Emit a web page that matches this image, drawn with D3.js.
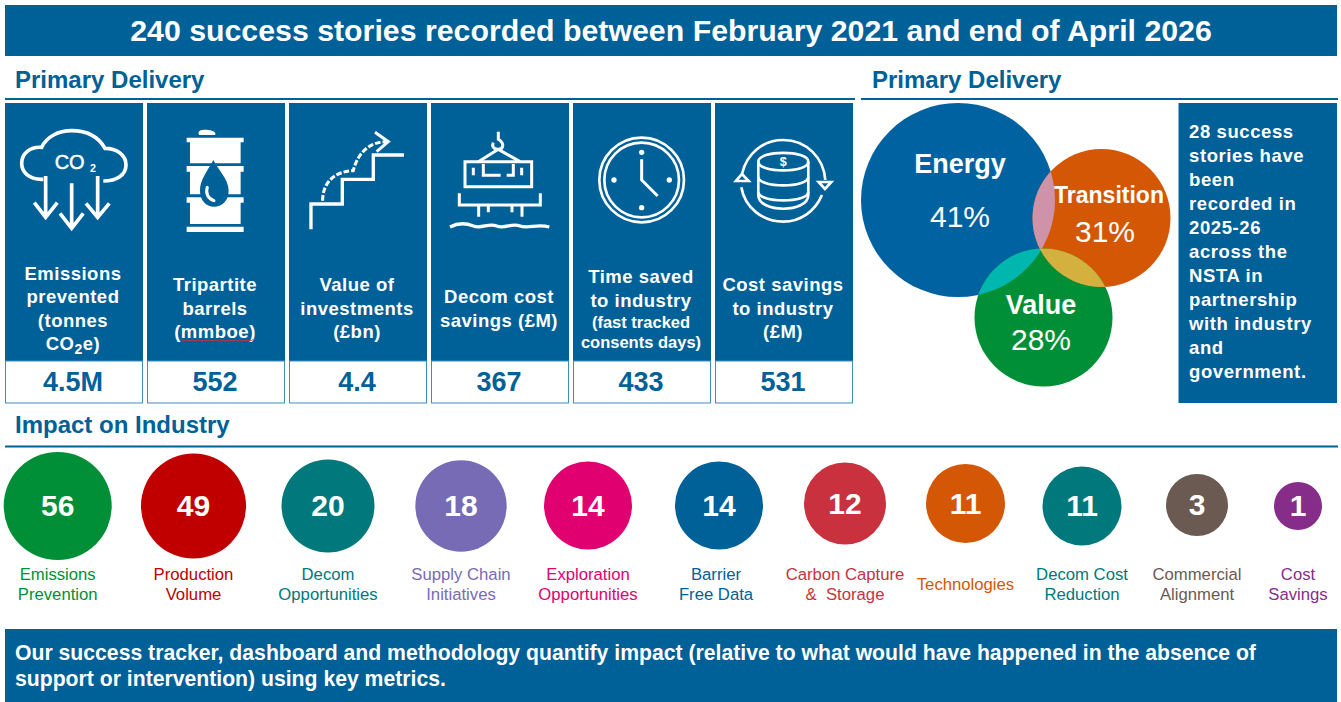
<!DOCTYPE html>
<html>
<head>
<meta charset="utf-8">
<script src="https://cdn.jsdelivr.net/npm/d3@7"></script>
<style>
  html, body { margin: 0; padding: 0; background: #fff; }
  svg { display: block; }
  text { font-family: "Liberation Sans", Arial, sans-serif; white-space: pre; }
</style>
</head>
<body>
<div id="chart"></div>
<script>
// headline cards
var metricNames = ["Emissions", "Tripartite", "Value", "Decom", "Time", "Cost"];
var metricLines = [
  ["Emissions", "prevented", "(tonnes", "CO\u2082e)"],
  ["Tripartite", "barrels", "(mmboe)"],
  ["Value of", "investments", "(\u00a3bn)"],
  ["Decom cost", "savings (\u00a3M)"],
  ["Time saved", "to industry"],
  ["Cost savings", "to industry", "(\u00a3M)"]
];
var metricNotes = [[], [], [], [], ["(fast tracked", "consents days)"], []];
var metricValues = ["4.5M", "552", "4.4", "367", "433", "531"];

// venn
var vennNames = ["Energy", "Transition", "Value"];
var vennShares = [41, 31, 28];
var vennColors = ["#0062a0", "#d45706", "#008f36"];
var storyLines = ["28 success", "stories have", "been", "recorded in", "2025-26", "across the",
  "NSTA in", "partnership", "with industry", "and", "government."];

// impact bubbles
var impactLabels = [
  ["Emissions", "Prevention"], ["Production", "Volume"], ["Decom", "Opportunities"],
  ["Supply Chain", "Initiatives"], ["Exploration", "Opportunities"], ["Barrier", "Free Data"],
  ["Carbon Capture", "&  Storage"], ["Technologies"], ["Decom Cost", "Reduction"],
  ["Commercial", "Alignment"], ["Cost", "Savings"]
];
var impactCounts = [56, 49, 20, 18, 14, 14, 12, 11, 11, 3, 1];
var impactColors = ["#008f36", "#c00000", "#00787c", "#786bb6", "#e0006f", "#006098",
  "#c9313f", "#d45706", "#00787c", "#6a5a52", "#862d8a"];

var blue = "#006098";
var width = 1341, height = 702;

var svg = d3.select("#chart").append("svg")
    .attr("width", width)
    .attr("height", height);

function banner(x, y, w, h) {
  return svg.append("rect").attr("x", x).attr("y", y).attr("width", w).attr("height", h).attr("fill", blue);
}

function heading(label, textX, textY, x1, x2, ruleY) {
  svg.append("text").attr("x", textX).attr("y", textY)
      .attr("font-size", 24).attr("font-weight", "bold").attr("fill", blue).text(label);
  svg.append("line").attr("x1", x1).attr("x2", x2).attr("y1", ruleY).attr("y2", ruleY)
      .attr("stroke", blue).attr("stroke-width", 2);
}

// title
banner(5, 5, 1332, 51);
svg.append("text").attr("x", 671).attr("y", 41)
    .attr("text-anchor", "middle").attr("font-size", 30.3).attr("font-weight", "bold")
    .attr("fill", "#fff").text("240 success stories recorded between February 2021 and end of April 2026");

heading("Primary Delivery", 15, 87.5, 5, 855, 99);
heading("Primary Delivery", 872, 87.5, 861, 1338, 99);
heading("Impact on Industry", 15, 433, 5, 1338, 446.5);

// cards
var cardX = d3.scaleBand().domain(metricNames).range([5, 853]).paddingInner(4 / 142);

var card = svg.selectAll(".card")
  .data(metricNames)
  .enter().append("g")
    .attr("class", "card")
    .attr("transform", function(d) { return "translate(" + cardX(d) + ",0)"; });

card.append("rect")
    .attr("y", 103).attr("width", cardX.bandwidth()).attr("height", 258)
    .attr("fill", blue);

card.append("rect")
    .attr("x", 0.5).attr("y", 361).attr("width", cardX.bandwidth() - 1).attr("height", 42)
    .attr("fill", "#fff").attr("stroke", "#3f8dbd");

card.append("text")
    .attr("x", cardX.bandwidth() / 2 - 1).attr("y", 391)
    .attr("text-anchor", "middle").attr("font-size", 27).attr("font-weight", "bold")
    .attr("fill", blue)
    .text(function(d, i) { return metricValues[i]; });

card.each(function(d, i) {
  var g = d3.select(this);
  var main = metricLines[i], notes = metricNotes[i];
  var blockH = main.length * 23.5 + notes.length * 20;
  var y = 309 - blockH / 2;
  var midX = cardX.bandwidth() / 2 - 1;
  main.forEach(function(line) {
    var t = g.append("text").attr("x", midX).attr("y", y + 17.5)
        .attr("text-anchor", "middle").attr("font-size", 18.5).attr("font-weight", "bold")
        .attr("letter-spacing", 0.5).attr("fill", "#fff");
    // the subscript 2 needs its own tspan
    var parts = line.split("\u2082");
    t.append("tspan").text(parts[0]);
    if (parts.length > 1) {
      t.append("tspan").attr("dy", 4).attr("font-size", 14).text("2");
      t.append("tspan").attr("dy", -4).text(parts[1]);
    }
    y += 23.5;
  });
  notes.forEach(function(line) {
    g.append("text").attr("x", midX).attr("y", y + 15.5)
        .attr("text-anchor", "middle").attr("font-size", 16.5).attr("font-weight", "bold")
        .attr("fill", "#fff").text(line);
    y += 20;
  });
});

// icons are traced at 3x, relative to the 0,100 and 430,100 crops
function iconLayer(ox) {
  return svg.append("g")
      .attr("transform", "translate(" + ox + ",100) scale(0.3333)")
      .attr("fill", "none").attr("stroke", "#fff").attr("stroke-width", 8)
      .attr("stroke-linecap", "butt").attr("stroke-linejoin", "miter");
}
function paths(g, list, width) {
  list.forEach(function(d) {
    var p = g.append("path").attr("d", d);
    if (width) p.attr("stroke-width", width);
  });
}

var left = iconLayer(0);
// co2 cloud
paths(left, [
  "M130 238C85 240 65 215 65 190C65 160 90 140 125 142C140 110 175 92 215 92C260 92 295 110 315 145C350 145 378 165 378 195C378 225 350 243 310 243",
  "M137 228V350M103 308L137 352L172 308",
  "M215 250V385M180 340L215 385L250 340",
  "M293 228V352M258 310L293 352L328 310"
], 11);
left.append("text").attr("x", 209).attr("y", 207).attr("text-anchor", "middle")
    .attr("font-size", 60).attr("fill", "#fff").attr("stroke", "#fff").attr("stroke-width", 1.5).text("CO");
left.append("text").attr("x", 279).attr("y", 216).attr("text-anchor", "middle")
    .attr("font-size", 32).attr("font-weight", "bold").attr("fill", "#fff").attr("stroke", "none").text("2");

// barrel
var barrel = left.append("g").attr("fill", "#fff").attr("stroke", "none");
barrel.append("path").attr("d", "M597 105C590 90 610 88 625 90C640 92 650 98 645 105Z");
barrel.append("path").attr("d", "M560 113H731V127H722V190H570V127H560Z");
barrel.append("path").attr("d", "M560 198H731V215H722V283H570V215H560Z");
barrel.append("path").attr("d", "M560 292H731V308H722V372H570V308H560Z");
barrel.append("path").attr("d", "M560 380H731V396H560Z");
left.append("path").attr("stroke", "none").attr("fill", blue)
    .attr("d", "M640 180C622 215 600 238 600 272C600 300 618 320 642 320C668 320 686 300 686 272C686 238 658 215 640 180Z");
left.append("path").attr("stroke-width", 9).attr("stroke-linecap", "round")
    .attr("d", "M622 262C616 280 624 296 642 302");

// stairs
paths(left, ["M933 388V312H1027V238H1120V165H1212"], 10);
left.append("path").attr("stroke-width", 9).attr("stroke-dasharray", "17 6")
    .attr("d", "M968 302C968 250 1000 215 1060 212C1070 170 1100 125 1160 125");
paths(left, ["M1125 97L1165 125L1130 155"], 9);

var right = iconLayer(430);
// decom platform
paths(right, [
  "M205 95V118C225 130 220 148 205 148C190 148 185 138 190 128",
  "M205 148L145 185M205 148L270 185",
  "M105 185H305V260H105Z",
  "M130 203V226M160 192V226H212M230 226H250V192M275 203V226",
  "M88 280V315H331V280",
  "M146 315V350M175 315V337M246 315V337M276 315V350"
], 9);
paths(right, ["M60 381C85 368 105 368 130 378C155 388 175 368 200 378C225 388 245 368 270 378C295 388 320 370 358 381"], 10);

// clock
right.append("circle").attr("cx", 635).attr("cy", 240).attr("r", 127).attr("stroke-width", 8);
right.append("circle").attr("cx", 635).attr("cy", 240).attr("r", 112).attr("stroke-width", 8);
paths(right, ["M635 178V240L683 288"], 9);
[[635, 157], [635, 323], [552, 240], [718, 240]].forEach(function(p) {
  right.append("circle").attr("cx", p[0]).attr("cy", p[1]).attr("r", 8).attr("fill", "#fff").attr("stroke", "none");
});

// coin stack
paths(right, [
  "M985 185C985 150 1135 150 1135 185C1135 220 985 220 985 185Z",
  "M985 185V285C985 340 1135 340 1135 285V185",
  "M985 230C985 265 1135 265 1135 230",
  "M985 275C985 310 1135 310 1135 275",
  "M936 222C950 160 1000 120 1060 120C1130 120 1182 175 1186 240",
  "M934 262C945 325 1000 365 1060 365C1110 365 1155 335 1176 285",
  "M918 243L936 222L956 243Z",
  "M1166 246H1204L1185 267Z"
], 8);
right.append("text").attr("x", 1060).attr("y", 198).attr("text-anchor", "middle")
    .attr("font-size", 38).attr("font-weight", "bold").attr("fill", "#fff").attr("stroke", "none").text("$");

// spell check squiggle under mmboe
svg.append("path")
    .attr("fill", "none").attr("stroke", "#d0313a").attr("stroke-width", 1)
    .attr("d", d3.line().curve(d3.curveBasis)(d3.range(0, 25).map(function(i) {
      return [181 + i * 3, 340.5 + (i % 2 ? 1.2 : -1.2)];
    })));

// venn
var vennR = d3.scaleLinear().domain([31, 41]).range([69, 97]).clamp(true);
var vennX = d3.scaleOrdinal().domain(vennNames).range([958, 1101.5, 1043.5]);
var vennY = d3.scaleOrdinal().domain(vennNames).range([200, 218, 317.5]);
var defs = svg.append("defs");

svg.selectAll(".venn")
  .data(vennNames)
  .enter().append("circle")
    .attr("class", "venn")
    .attr("cx", vennX).attr("cy", vennY)
    .attr("r", function(d, i) { return vennR(vennShares[i]); })
    .attr("fill", function(d, i) { return vennColors[i]; });

vennNames.forEach(function(d, i) {
  defs.append("clipPath").attr("id", "clip-" + i).append("circle")
      .attr("cx", vennX(d)).attr("cy", vennY(d)).attr("r", vennR(vennShares[i]));
});

// overlaps: circle b clipped to circle a
[[0, 1, "#cf93a9"], [0, 2, "#00b7b0"], [1, 2, "#d4b13e"]].forEach(function(o) {
  var b = vennNames[o[1]];
  svg.append("circle")
      .attr("cx", vennX(b)).attr("cy", vennY(b)).attr("r", vennR(vennShares[o[1]]))
      .attr("clip-path", "url(#clip-" + o[0] + ")")
      .attr("fill", o[2]);
});

var vennTextX = [960, 1109, 1041];
var vennNameY = [173, 203, 314];
var vennPctY = [227, 242, 350];
vennNames.forEach(function(d, i) {
  svg.append("text").attr("x", vennTextX[i]).attr("y", vennNameY[i]).attr("text-anchor", "middle")
      .attr("font-size", i == 1 ? 23 : 27).attr("font-weight", "bold").attr("fill", "#fff").text(d);
  svg.append("text").attr("x", i == 1 ? 1105 : vennTextX[i]).attr("y", vennPctY[i]).attr("text-anchor", "middle")
      .attr("font-size", 30).attr("fill", "#fff").text(vennShares[i] + "%");
});

// side note
banner(1178.5, 103, 158.5, 300);
svg.selectAll(".story")
  .data(storyLines)
  .enter().append("text")
    .attr("class", "story")
    .attr("x", 1189)
    .attr("y", function(d, i) { return 138 + i * 24; })
    .attr("font-size", 18.5).attr("font-weight", "bold").attr("letter-spacing", 0.6).attr("fill", "#fff")
    .text(function(d) { return d; });

// bubbles
var impactKeys = impactLabels.map(function(d) { return d.join(" "); });
var bubbleR = d3.scaleLinear().domain([1, 3, 11, 14, 20, 56]).range([24, 31, 39.5, 44, 46.5, 54]);
var bubbleX = d3.scaleOrdinal().domain(impactKeys)
    .range([57.7, 193.5, 328, 461, 588, 719, 845, 965.5, 1082, 1197, 1298]);
var bubbleY = d3.scaleOrdinal().domain(impactKeys)
    .range([506, 506, 506, 506, 505.5, 505.5, 503.5, 503.5, 506, 505, 506]);

var bubble = svg.selectAll(".bubble")
  .data(impactKeys)
  .enter().append("g")
    .attr("class", "bubble");

bubble.append("circle")
    .attr("cx", bubbleX).attr("cy", bubbleY)
    .attr("r", function(d, i) { return bubbleR(impactCounts[i]); })
    .attr("fill", function(d, i) { return impactColors[i]; });

bubble.append("text")
    .attr("x", bubbleX)
    .attr("y", function(d) { return bubbleY(d) + 10; })
    .attr("text-anchor", "middle").attr("font-size", 30).attr("font-weight", "bold").attr("fill", "#fff")
    .text(function(d, i) { return impactCounts[i]; });

bubble.each(function(d, i) {
  var lines = impactLabels[i];
  var g = d3.select(this);
  lines.forEach(function(line, k) {
    g.append("text")
        .attr("x", bubbleX(d) - (i == 5 ? 3 : 0))
        .attr("y", (lines.length == 1 ? 590 : 580) + k * 20)
        .attr("text-anchor", "middle").attr("font-size", 16.7)
        .attr("fill", impactColors[i])
        .text(line);
  });
});

// footer
banner(5, 629, 1332, 73);
["Our success tracker, dashboard and methodology quantify impact (relative to what would have happened in the absence of",
 "support or intervention) using key metrics."].forEach(function(line, i) {
  svg.append("text").attr("x", 15).attr("y", 660 + i * 26)
      .attr("font-size", 21.2).attr("font-weight", "bold").attr("fill", "#fff").text(line);
});
</script>
</body>
</html>
